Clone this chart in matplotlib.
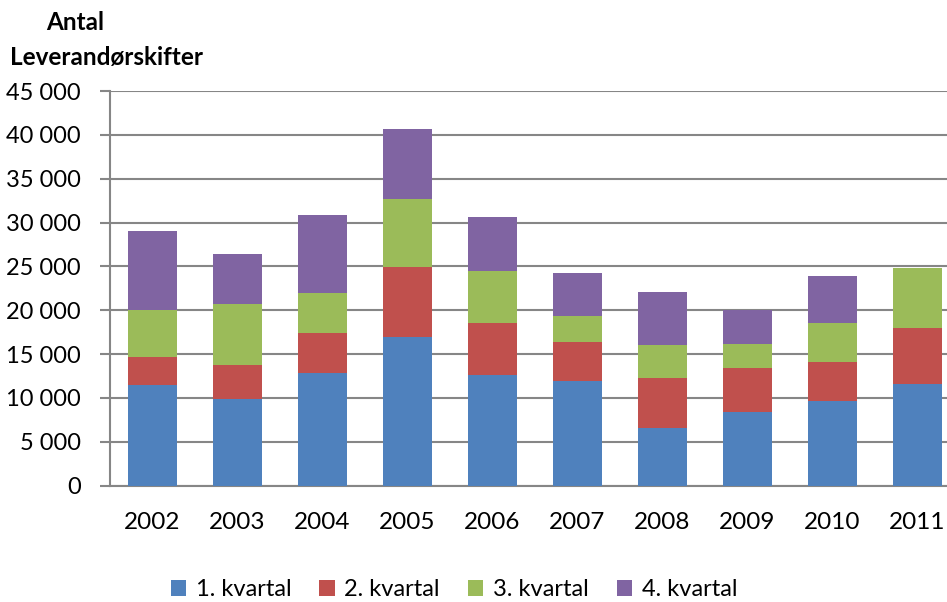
import matplotlib
matplotlib.use("Agg")
import matplotlib.pyplot as plt
import numpy as np
from matplotlib.patches import Patch

years = ["2002", "2003", "2004", "2005", "2006", "2007", "2008", "2009", "2010", "2011"]
q1 = [11500, 9900, 12800, 16900, 12600, 11900, 6600, 8400, 9700, 11600]
q2 = [3200, 3900, 4600, 8050, 6000, 4500, 5700, 5050, 4400, 6400]
q3 = [5300, 6900, 4550, 7750, 5900, 2950, 3700, 2750, 4450, 6850]
q4 = [9000, 5700, 8950, 8000, 6150, 4850, 6050, 3850, 5350, 0]
series_names = ["1. kvartal", "2. kvartal", "3. kvartal", "4. kvartal"]
colors = ["#4F81BD", "#C0504D", "#9BBB59", "#8064A2"]
yticks = list(range(0, 45001, 5000))

plt.rcParams['font.family'] = ['Lato', 'DejaVu Sans']

W, H = 947, 602
fig = plt.figure(figsize=(W / 100, H / 100), dpi=100)
left = 110 / W
bottom = (H - 485.7) / H
top = (H - 91) / H
ax = fig.add_axes([left, bottom, 850 / W, top - bottom])

x = np.arange(len(years))
bottoms = np.zeros(len(years))
for vals, c in zip([q1, q2, q3, q4], colors):
    v = np.array(vals, dtype=float)
    ax.bar(x, v, width=0.58, bottom=bottoms, color=c, zorder=3)
    bottoms += v

ax.set_xlim(-0.5, 9.5)
ax.set_ylim(0, 45000)
ax.set_yticks(yticks)
ax.set_yticklabels([f"{t:,}".replace(",", " ") for t in yticks], fontsize=17)
ax.set_xticks(x)
ax.set_xticklabels(years, fontsize=17.5)
ax.tick_params(axis='x', length=0, pad=19)
ax.tick_params(axis='y', length=7, width=1.5, color="#868686", pad=14)
ax.yaxis.grid(True, color="#868686", linewidth=1.5, zorder=0)
for s in ["top", "right"]:
    ax.spines[s].set_visible(False)
for s in ["left", "bottom"]:
    ax.spines[s].set_color("#868686")
    ax.spines[s].set_linewidth(1.5)

fig.text(75 / W, 1 - 23 / H, "Antal", ha="center", va="center", fontsize=17.5, fontweight="bold")
fig.text(10 / W, 1 - 58 / H, "Leverandørskifter", ha="left", va="center", fontsize=17.5, fontweight="bold")

handles = [Patch(facecolor=c) for c in colors]
fig.legend(handles, series_names, loc="center", bbox_to_anchor=(454 / W, 1 - 590 / H), ncol=4,
           frameon=False, fontsize=17, handlelength=0.65, handleheight=0.65, handletextpad=0.4,
           columnspacing=1.2)

fig.savefig("out.png", dpi=100)
